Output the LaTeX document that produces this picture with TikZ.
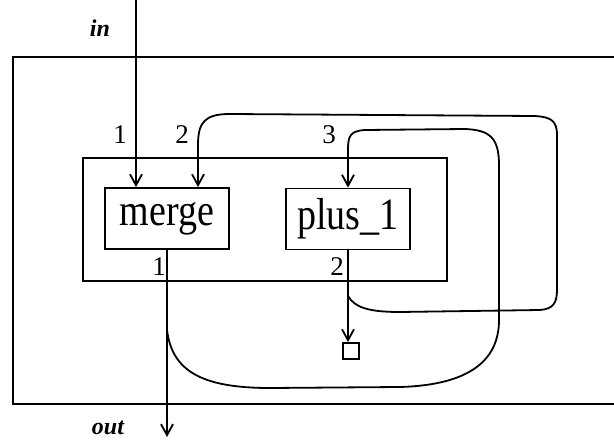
\documentclass[tikz,border=0pt]{standalone}
\usepackage{fontspec}
\setmainfont{Liberation Serif}
\usetikzlibrary{arrows.meta,calc}
\begin{document}
\begin{tikzpicture}[x=1pt,y=-1pt,
  wire/.style={line width=1.8pt},
  arr/.style={wire,-{Straight Barb[length=11pt,width=12pt]}},
  opbox/.style={draw,line width=1.8pt,minimum width=124pt,minimum height=61pt,inner sep=0pt,font=\fontsize{38}{40}\selectfont},
  port/.style={font=\fontsize{27}{29}\selectfont,inner sep=0pt},
  ext/.style={font=\fontsize{24}{26}\selectfont\bfseries\itshape,inner sep=0pt}]
\useasboundingbox (0,0) rectangle (614,444);
\draw[wire] (614,57) -- (13,57) -- (13,404) -- (614,404);
\node[draw,line width=1.8pt,minimum width=364pt,minimum height=123pt,inner sep=0pt] (comp) at (265,219.5) {};
\node[opbox] (merge) at (167,218.5) {\scalebox{1}[1.18]{merge}};
\node[opbox] (plus) at (348,219) {\scalebox{1}[1.18]{plus\_1}};
\node[draw,line width=1.8pt,minimum size=16pt,inner sep=0pt] (sq) at (351,351) {};
\coordinate (inTop) at (136,0);
\coordinate (outEnd) at (167,437);
\coordinate (a0) at (167,330);
\coordinate (b0) at (348,296);
\draw[arr] (inTop) -- (inTop |- merge.north);
\draw[arr] (merge.south) -- (outEnd);
\draw[arr] (plus.south) -- (plus.south |- sq.north);
\draw[arr] (a0) .. controls (172,370) and (200,388) .. (270,388) -- (400,387)
  .. controls (470,385) and (499,360) .. (499,320) -- (499,165)
  .. controls (499,138) and (490,130) .. (465,129) -- (365,130)
  .. controls (350,131) and (348,136) .. (348,150) -- (plus.north);
\draw[arr] (b0) .. controls (355,308) and (370,312) .. (400,312) -- (540,310)
  .. controls (553,309) and (557,303) .. (557,290) -- (557,135)
  .. controls (557,120) and (550,117) .. (535,116) -- (230,114)
  .. controls (205,114) and (198,122) .. (198,145) -- ($(merge.north)+(31,0)$);
\node[port] (pi1) at (120,135) {1};
\node[port] (pi2) at (182,135) {2};
\node[port] (pi3) at (329,135) {3};
\node[port] (po1) at (159,267) {1};
\node[port] (po2) at (337,267) {2};
\node[ext] (inlab) at (100,28) {in};
\node[ext] (outlab) at (108,428) {out};
\end{tikzpicture}
\end{document}
